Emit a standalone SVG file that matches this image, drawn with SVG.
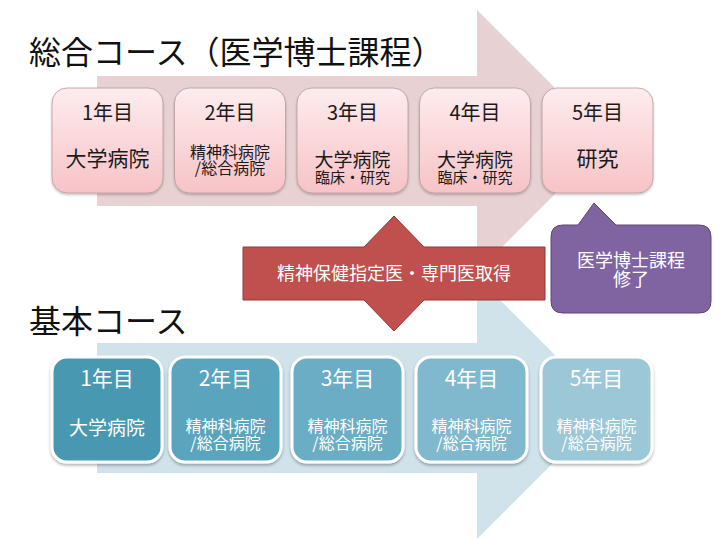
<svg xmlns="http://www.w3.org/2000/svg" width="720" height="540" viewBox="0 0 720 540">
<style>
text{font-family:"Noto Sans CJK JP","Noto Sans",sans-serif;text-anchor:middle}
.title{font-size:32px;fill:#111;text-anchor:start}
.pk{fill:url(#pinkGrad);stroke:#b89a9c;stroke-width:0.8;filter:url(#sh)}
.bl{stroke:#fff;stroke-width:3;filter:url(#sh2)}
.pt{fill:#1a1a1a}
.wt{fill:#fff}
.y{font-size:20px}
.l{font-size:21px}
.m{font-size:19px}
.s{font-size:16px}
.xs{font-size:15px}
</style>
<defs>
<linearGradient id="pinkGrad" x1="0" y1="0" x2="0" y2="1">
<stop offset="0" stop-color="#fdecee"/>
<stop offset="1" stop-color="#f7c3c7"/>
</linearGradient>
<filter id="sh" x="-10%" y="-10%" width="120%" height="130%">
<feDropShadow dx="0" dy="1.5" stdDeviation="1.2" flood-color="#000" flood-opacity="0.25"/>
</filter>
<filter id="sh2" x="-10%" y="-10%" width="120%" height="130%">
<feDropShadow dx="0" dy="2" stdDeviation="1.5" flood-color="#000" flood-opacity="0.3"/>
</filter>
</defs>
<rect width="720" height="540" fill="#fff"/>
<g id="arrows">
<polygon id="arrow-sogo" points="97,76 477,76 477,10 608,141 477,272 477,206 97,206" fill="#e7d1d3"/>
<polygon id="arrow-kihon" points="97,343 477,343 477,277 608,408 477,539 477,473 97,473" fill="#d0e3eb"/>
</g>
<text class="title" x="29" y="64">総合コース（医学博士課程）</text>
<text class="title" x="29" y="333">基本コース</text>
<g id="sogo-1"><rect class="pk" x="52" y="88" width="111" height="105" rx="15"/>
<text class="pt y" x="107.5" y="119.5">1年目</text><text class="pt l" x="107.5" y="166">大学病院</text></g>
<g id="sogo-2"><rect class="pk" x="174.5" y="88" width="111" height="105" rx="15"/>
<text class="pt y" x="230" y="119.5">2年目</text><text class="pt s" x="230" y="157.5">精神科病院<tspan x="230" dy="16">/総合病院</tspan></text></g>
<g id="sogo-3"><rect class="pk" x="297" y="88" width="111" height="105" rx="15"/>
<text class="pt y" x="352.5" y="119.5">3年目</text><text class="pt m" x="352.5" y="167">大学病院<tspan class="xs" x="352.5" dy="15.5">臨床・研究</tspan></text></g>
<g id="sogo-4"><rect class="pk" x="419.5" y="88" width="111" height="105" rx="15"/>
<text class="pt y" x="475" y="119.5">4年目</text><text class="pt m" x="475" y="167">大学病院<tspan class="xs" x="475" dy="15.5">臨床・研究</tspan></text></g>
<g id="sogo-5"><rect class="pk" x="542" y="88" width="111" height="105" rx="15"/>
<text class="pt y" x="597.5" y="119.5">5年目</text><text class="pt l" x="597.5" y="166">研究</text></g>
<g id="senmon">
<polygon points="243,247 364,247 394,216 424,247 545,247 545,300 424,300 394,331 364,300 243,300" fill="#c0504d" stroke="#8e3a38" stroke-width="1"/>
<text class="wt" x="394" y="280" style="font-size:18px">精神保健指定医・専門医取得</text>
</g>
<g id="hakase">
<path d="M563,225 H578 L594,203 L616,225 H699 Q711,225 711,237 V301 Q711,313 699,313 H563 Q551,313 551,301 V237 Q551,225 563,225 Z" fill="#8064a2" stroke="#5c4677" stroke-width="1"/>
<text class="wt" x="631" y="266.5" style="font-size:18px">医学博士課程<tspan x="631" dy="19.5">修了</tspan></text>
</g>
<g id="kihon-1"><rect class="bl" x="52" y="357" width="110" height="105" rx="15" fill="#4898b2"/>
<text class="wt l" x="107" y="386">1年目</text><text class="wt m" x="107" y="435">大学病院</text></g>
<g id="kihon-2"><rect class="bl" x="170" y="357" width="111" height="105" rx="15" fill="#5aa4bd"/>
<text class="wt l" x="225.5" y="386">2年目</text><text class="wt s" x="225.5" y="431.5">精神科病院<tspan x="225.5" dy="17">/総合病院</tspan></text></g>
<g id="kihon-3"><rect class="bl" x="292" y="357" width="111" height="105" rx="15" fill="#6badc4"/>
<text class="wt l" x="347.5" y="386">3年目</text><text class="wt s" x="347.5" y="431.5">精神科病院<tspan x="347.5" dy="17">/総合病院</tspan></text></g>
<g id="kihon-4"><rect class="bl" x="416" y="357" width="111" height="105" rx="15" fill="#80b9cd"/>
<text class="wt l" x="471.5" y="386">4年目</text><text class="wt s" x="471.5" y="431.5">精神科病院<tspan x="471.5" dy="17">/総合病院</tspan></text></g>
<g id="kihon-5"><rect class="bl" x="541" y="357" width="111" height="105" rx="15" fill="#9cc7d7"/>
<text class="wt l" x="596.5" y="386">5年目</text><text class="wt s" x="596.5" y="431.5">精神科病院<tspan x="596.5" dy="17">/総合病院</tspan></text></g>
</svg>
